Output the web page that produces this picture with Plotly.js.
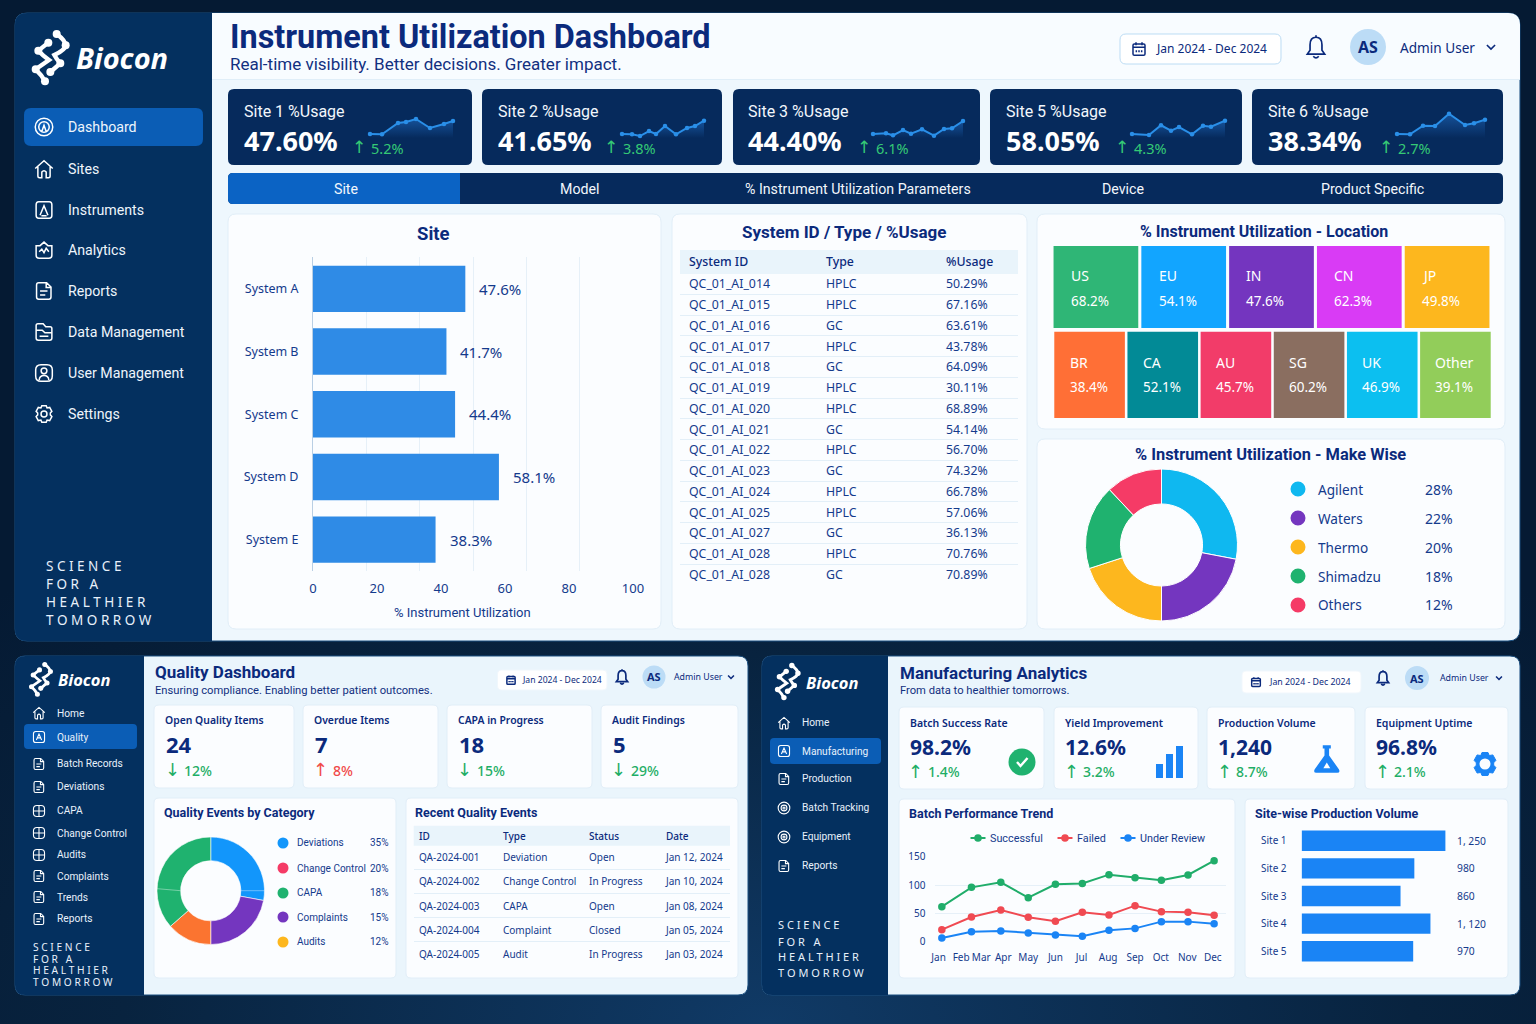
<!DOCTYPE html>
<html><head><meta charset="utf-8"><title>Instrument Utilization Dashboard</title>
<script src="https://cdn.plot.ly/plotly-3.0.1.min.js"></script>
<style>html,body{margin:0;padding:0;width:1536px;height:1024px;overflow:hidden;
background:radial-gradient(ellipse 70% 60% at 50% 100%,#103a66 0%,#08233f 60%,#051a33 100%),#051a33}
#chart{width:1536px;height:1024px}</style></head><body><div id="chart"></div><script>
// ---------- DATA ----------
const kpiNames=["Site 1 %Usage","Site 2 %Usage","Site 3 %Usage","Site 5 %Usage","Site 6 %Usage"];
const kpiValues=["47.60%","41.65%","44.40%","58.05%","38.34%"];
const kpiDeltas=["5.2%","3.8%","6.1%","4.3%","2.7%"];
const spark1X=[0,12,28,36,46,60,74,83], spark1Y=[4,3.7,15,16,19,10,14,17];
const spark2X=[0,10,18,27,34,43,54,65,73,82], spark2Y=[4,3.7,2,7,4,12,3.7,10,12,17.3];
const spark3X=[0,13,20,30,38,49,61,71,79,90], spark3Y=[4,4.7,2.7,8,4.3,8.7,2.3,9,9.7,17];
const spark5X=[0,17,29,39,47,60,71,79,93], spark5Y=[4,3,12.7,7.3,11,3.7,12.3,11.3,17.3];
const spark6X=[0,13,26,38,52,68,77,88], spark6Y=[4,3.7,12.3,12,24.3,13,14.7,18.3];
const tabNames=["Site","Model","% Instrument Utilization Parameters","Device","Product Specific"];
const systems=["System A","System B","System C","System D","System E"];
const systemUsage=[47.6,41.7,44.4,58.1,38.3];
const tableIds=["QC_01_AI_014","QC_01_AI_015","QC_01_AI_016","QC_01_AI_017","QC_01_AI_018","QC_01_AI_019","QC_01_AI_020","QC_01_AI_021","QC_01_AI_022","QC_01_AI_023","QC_01_AI_024","QC_01_AI_025","QC_01_AI_027","QC_01_AI_028","QC_01_AI_028"];
const tableTypes=["HPLC","HPLC","GC","HPLC","GC","HPLC","HPLC","GC","HPLC","GC","HPLC","HPLC","GC","HPLC","GC"];
const tableUsage=["50.29%","67.16%","63.61%","43.78%","64.09%","30.11%","68.89%","54.14%","56.70%","74.32%","66.78%","57.06%","36.13%","70.76%","70.89%"];
const locRow1=["US","EU","IN","CN","JP"], locRow1Val=[68.2,54.1,47.6,62.3,49.8];
const locRow2=["BR","CA","AU","SG","UK","Other"], locRow2Val=[38.4,52.1,45.7,60.2,46.9,39.1];
const locRow1Col=["#2fb676","#12a5ff","#7435bf","#d93bf5","#fdb71e"];
const locRow2Col=["#ff6f36","#028a96","#f23c69","#8a6e60","#0cbff0","#92cd5a"];
const makes=["Agilent","Waters","Thermo","Shimadzu","Others"], makeVal=[28,22,20,18,12];
const makeCol=["#0fb8f0","#7436bf","#fdb71e","#1fb26f","#f53b66"];
const qaKpiNames=["Open Quality Items","Overdue Items","CAPA in Progress","Audit Findings"];
const qaKpiVals=["24","7","18","5"], qaKpiDelta=["12%","8%","15%","29%"], qaKpiUp=[false,true,false,false];
const qaNav=["Home","Quality","Batch Records","Deviations","CAPA","Change Control","Audits","Complaints","Trends","Reports"];
const qaCats=["Deviations","Change Control","CAPA","Complaints","Audits"], qaCatVal=[35,20,18,15,12];
const qaCatCol=["#1296fb","#f53b66","#1fb26f","#7436bf","#fdb71e"];
const qaSliceNames=["Deviations","Complaints","Change Control","CAPA"], qaSliceVal=[27.9,22.1,13.5,36.5];
const qaSliceCol=["#1296fb","#7436bf","#fb7430","#1fb26f"];
const qaIds=["QA-2024-001","QA-2024-002","QA-2024-003","QA-2024-004","QA-2024-005"];
const qaTypes=["Deviation","Change Control","CAPA","Complaint","Audit"];
const qaStatus=["Open","In Progress","Open","Closed","In Progress"];
const qaDates=["Jan 12, 2024","Jan 10, 2024","Jan 08, 2024","Jan 05, 2024","Jan 03, 2024"];
const mfNav=["Home","Manufacturing","Production","Batch Tracking","Equipment","Reports"];
const mfKpiNames=["Batch Success Rate","Yield Improvement","Production Volume","Equipment Uptime"];
const mfKpiVals=["98.2%","12.6%","1,240","96.8%"], mfKpiDelta=["1.4%","3.2%","8.7%","2.1%"];
const trendPos=[0,1.09,2.17,3.18,4.18,5.17,6.15,7.11,8.08,9.06,10.02];
const trendSuccess=[61.6,96,105,77.7,101.4,103,118.6,113,108.5,118,143.5];
const trendFailed=[20.7,43.3,55.7,42.7,35.6,51.6,46.8,63.4,52.8,51.6,46.2];
const trendReview=[6,17,18.4,14.8,11.3,8.9,19.6,23,35,35,31.4];
const monthPos=[-0.12,0.71,1.45,2.26,3.18,4.18,5.14,6.12,7.11,8.06,9.03,9.97];
const months=["Jan","Feb","Mar","Apr","May","Jun","Jul","Aug","Sep","Oct","Nov","Dec"];
const prodSites=["Site 1","Site 2","Site 3","Site 4","Site 5"], prodVol=[1250,980,860,1120,970];
const prodLabels=["1, 250","980","860","1, 120","970"];

// ---------- HELPERS ----------
const BODY="Noto Sans", HEAD="Roboto";
const NAVY="#0b2a7c", INK="#143a8c", GREEN="#1fae66", LGREEN="#35c975", RED="#f04a4a";
const X=p=>+(p/1536).toFixed(5), Y=p=>+(1-p/1024).toFixed(5);
const shapes=[],annotations=[],data=[];
const layout={width:1536,height:1024,margin:{l:0,r:0,t:0,b:0},paper_bgcolor:"rgba(0,0,0,0)",plot_bgcolor:"rgba(0,0,0,0)",
 shapes,annotations,showlegend:false,hovermode:"closest",font:{family:BODY,color:INK}};
function T(text,x,y,size,color,o={}){annotations.push({text,x:X(x),y:Y(y),xref:"paper",yref:"paper",showarrow:false,
 xanchor:o.anchor||"left",yanchor:"middle",borderpad:0,borderwidth:0,
 font:{family:o.family||BODY,size,color:color||INK,weight:o.weight||400,style:o.style||"normal"}});}
const arrow=(up,x,y,size,color)=>T(up?"↑":"↓",x,y,size,color,{family:"DejaVu Sans",anchor:"center"});
const rrp=(x,y,w,h,r)=>`M${x+r} ${y} L${x+w-r} ${y} Q${x+w} ${y} ${x+w} ${y+r} L${x+w} ${y+h-r} Q${x+w} ${y+h} ${x+w-r} ${y+h} L${x+r} ${y+h} Q${x} ${y+h} ${x} ${y+h-r} L${x} ${y+r} Q${x} ${y} ${x+r} ${y} Z`;
const cp=(cx,cy,r)=>{const k=r*.5523;return `M${cx-r} ${cy} C${cx-r} ${cy-k} ${cx-k} ${cy-r} ${cx} ${cy-r} C${cx+k} ${cy-r} ${cx+r} ${cy-k} ${cx+r} ${cy} C${cx+r} ${cy+k} ${cx+k} ${cy+r} ${cx} ${cy+r} C${cx-k} ${cy+r} ${cx-r} ${cy+k} ${cx-r} ${cy} Z`;};
function P(path,ox,oy,s,o={}){let i=0;const d=path.replace(/-?\d+(\.\d+)?/g,m=>{const v=parseFloat(m);const r=(i%2==0)?X(ox+v*s):Y(oy+v*s);i++;return r;});
 shapes.push({type:"path",path:d,xref:"paper",yref:"paper",layer:o.layer||"below",fillcolor:o.fill||"rgba(0,0,0,0)",line:{color:o.line||"rgba(0,0,0,0)",width:o.width===undefined?(o.line?1:0):o.width}});}
function box(x0,y0,x1,y1,r,fill,line,lw){P(rrp(x0,y0,x1-x0,y1-y0,r),0,0,1,{fill,line,width:lw===undefined?(line?1:0):lw});}
function leftBox(x0,y0,x1,y1,r,fill){P(`M${x0+r} ${y0} L${x1} ${y0} L${x1} ${y1} L${x0+r} ${y1} Q${x0} ${y1} ${x0} ${y1-r} L${x0} ${y0+r} Q${x0} ${y0} ${x0+r} ${y0} Z`,0,0,1,{fill});}
function dot(cx,cy,r,fill,line){shapes.push({type:"circle",xref:"paper",yref:"paper",layer:"below",x0:X(cx-r),x1:X(cx+r),y0:Y(cy+r),y1:Y(cy-r),fillcolor:fill,line:{color:line||"rgba(0,0,0,0)",width:line?1:0}});}
function rule(x0,x1,y,c){shapes.push({type:"line",xref:"paper",yref:"paper",layer:"below",x0:X(x0),x1:X(x1),y0:Y(y),y1:Y(y),line:{color:c,width:1}});}
const ICONS={
 home:"M2 11.5 L12 2.5 L22 11.5 M5 9.5 L5 20 Q5 22 7 22 L9.5 22 L9.5 15.5 Q12 12.5 14.5 15.5 L14.5 22 L17 22 Q19 22 19 20 L19 9.5",
 dash:cp(12,12,10)+" "+cp(12,12,6)+" M9.5 17 L12 10 L14.5 17",
 frame:rrp(2.5,2.5,19,19,4)+" M7.5 17 L12 7 L16.5 17 M9.5 13.5 L14.5 13.5",
 inst:"M6 2.5 L18 2.5 Q21 2.5 21 6 L21 18 Q21 21.5 18 21.5 L6 21.5 Q3 21.5 3 18 L3 6 Q3 2.5 6 2.5 M7.5 18 L12 7 L16.5 18 M9 18.5 L15 18.5",
 ana:"M3 7 L7.5 7 L12 3 L16.5 7 L21 7 L21 18 Q21 21.5 17.5 21.5 L6.5 21.5 Q3 21.5 3 18 Z M6.5 14 L9.5 11 L12 15 L14.5 10 L17.5 14",
 doc:"M6 2.5 L15 2.5 L20 7.5 L20 19 Q20 21.5 17.5 21.5 L6 21.5 Q3.5 21.5 3.5 19 L3.5 5 Q3.5 2.5 6 2.5 M14.5 2.5 L14.5 8 L20 8 M7.5 12 L16 12 M7.5 16.5 L13.5 16.5",
 data:"M5 2.5 L11 2.5 L14 6 L19 6 Q21 6 21 8 L21 19 Q21 21.5 18.5 21.5 L5.5 21.5 Q3 21.5 3 19 L3 4.5 Q3 2.5 5 2.5 M3 10 L10 10 L13 13 L21 13 M7 17 L17 17",
 user:rrp(2.5,2.5,19,19,6)+" "+cp(12,9.5,3.3)+" M6.5 20 Q7 15 12 15 Q17 15 17.5 20",
 gear:"M9.5 2.5 L14.5 2.5 L15.5 5 L18.5 4.5 L21 9 L19.2 11 L19.2 13 L21 15 L18.5 19.5 L15.5 19 L14.5 21.5 L9.5 21.5 L8.5 19 L5.5 19.5 L3 15 L4.8 13 L4.8 11 L3 9 L5.5 4.5 L8.5 5 Z "+cp(12,12,3.4),
 cap:rrp(2.5,2.5,19,19,6)+" M2.5 12 L21.5 12 M12 2.5 L12 21.5",
 target:cp(12,12,10)+" "+cp(12,12,5)+" "+cp(12,12,1.8),
 bell:"M12 3 C8 3 6.5 6 6.5 10 L6.5 15 L4 18.5 L20 18.5 L17.5 15 L17.5 10 C17.5 6 16 3 12 3 M9.5 20.5 Q12 23.5 14.5 20.5 M12 1.2 L12 3",
 chev:"M5 8.5 L12 15.5 L19 8.5",
 cal:rrp(3,4.5,18,17,2)+" M7.5 2 L7.5 6.5 M16.5 2 L16.5 6.5 M3 9.5 L21 9.5 M8 14 L8 17 M12 14 L12 17 M16 14 L16 17"};
function icon(name,cx,cy,size,color,w){const s=size/24;P(ICONS[name],cx-12*s,cy-12*s,s,{line:color,width:w||1.5});}
function logo(x0,y0,s,textX,textY,textSize){
 const w=13*s,lc="#ffffff";
 P("M125 42 Q150 60 152 76 Q150 90 118 105 Q125 118 136 130 L106 156",x0,y0,s,{line:lc,width:w});
 P("M100 68 L70 92 Q85 108 102 120 L62 148 Q80 165 90 184",x0,y0,s,{line:lc,width:w});
 [[125,42],[152,76],[100,68],[70,92],[136,130],[106,156],[62,148],[90,184]].forEach(p=>dot(x0+p[0]*s,y0+p[1]*s,s*12,lc));
 T("Biocon",textX,textY,textSize,"#ffffff",{weight:700,style:"italic"});
}
let axN=0;
function axes(x0,x1,y0,y1,xo={},yo={}){axN++;const id=axN==1?"":axN;
 const base={showgrid:false,zeroline:false,showticklabels:false,ticks:"",fixedrange:true,automargin:false};
 layout["xaxis"+id]=Object.assign({},base,{domain:[X(x0),X(x1)],anchor:"y"+id},xo);
 layout["yaxis"+id]=Object.assign({},base,{domain:[Y(y1),Y(y0)],anchor:"x"+id},yo);
 return {x:"x"+id,y:"y"+id};}
function header(title,titleX,titleY,tSize,sub,subY,subSize,opts){
 T(title,titleX,titleY,tSize,NAVY,{weight:700,family:HEAD});T(sub,titleX,subY,subSize,"#12307f",{family:HEAD});
 box(opts.cx0,opts.cy0,opts.cx1,opts.cy1,opts.r,"#ffffff",opts.border);
 icon("cal",opts.calX,(opts.cy0+opts.cy1)/2,opts.calS,NAVY,1.5);
 T("Jan 2024 - Dec 2024",opts.dateX,(opts.cy0+opts.cy1)/2,opts.dateS,NAVY);
 icon("bell",opts.bellX,opts.userY,opts.bellS,NAVY,1.7);
 dot(opts.avX,opts.userY,opts.avR,"#bcdcf6");
 T("AS",opts.avX,opts.userY,opts.avS,NAVY,{anchor:"center",weight:700});
 T("Admin User",opts.userX,opts.userY,opts.userS,NAVY);
 icon("chev",opts.chevX,opts.userY,opts.chevS,NAVY,1.6);
}
function tagline(x,ys,size){["S C I E N C E","F O R   A","H E A L T H I E R","T O M O R R O W"].forEach((t,i)=>T(t.replace(/   /g,"\u00a0\u00a0\u00a0"),x,ys[i],size,"#e8f1fb"));}
function textTable(x0,x1,y0,y1,yRange,cols,colX,rows,hdrPos,headers,size,size2,ruleVals,off){
 const a=axes(x0,x1,y0,y1,{range:[x0,x1]},{range:yRange,showgrid:true,gridcolor:"#e3eff8",gridwidth:1,tickvals:ruleVals});
 cols.forEach((c,i)=>{
  data.push({type:"scatter",mode:"text",xaxis:a.x,yaxis:a.y,showlegend:false,cliponaxis:false,hoverinfo:"skip",
   x:rows.map(()=>colX[i]),y:rows.map(r=>r+off),text:c,textposition:"middle right",textfont:{family:BODY,size,color:INK}});
  data.push({type:"scatter",mode:"text",xaxis:a.x,yaxis:a.y,showlegend:false,cliponaxis:false,hoverinfo:"skip",
   x:[colX[i]],y:[hdrPos+off],text:[headers[i]],textposition:"middle right",textfont:{family:BODY,size:size2,color:NAVY,weight:500}});
 });
}

// ---------- MAIN DASHBOARD FRAME ----------
box(15,13,1520,641,12,"#eef7fd","#1b4f80");
P(`M212 13 L1508 13 Q1520 13 1520 25 L1520 79 L212 79 Z`,0,0,1,{fill:"#f8fcff"});
rule(212,1520,79.5,"#e0eef8");
leftBox(15,13,212,641,12,"#04305f");
logo(15,20,1/3,76,58,29);
header("Instrument Utilization Dashboard",230,37,32.4,"Real-time visibility. Better decisions. Greater impact.",64,17,{
 cx0:1120,cy0:34,cx1:1281,cy1:64,r:6,border:"#bcdcf4",calX:1139,calS:16,dateX:1156,dateS:12,bellX:1316,userY:47,bellS:26,avX:1368,avR:18,avS:16,userX:1400,userS:13.6,chevX:1491,chevS:14});
box(24,108,203,146,7,"#0b5db5");
const mainNav=[["Dashboard",127,"dash"],["Sites",169,"home"],["Instruments",210,"inst"],["Analytics",250,"ana"],["Reports",291,"doc"],["Data Management",332,"data"],["User Management",373,"user"],["Settings",414,"gear"]];
mainNav.forEach(n=>{T(n[0],68,n[1],14.2,"#eef5fc",{family:HEAD});icon(n[2],44,n[1],21,"#ffffff",1.5);});
tagline(46,[566,584,602,620],13.5);

// KPI cards with sparklines
const cardX=[[228,472],[482,722],[733,980],[990,1242],[1252,1503]];
const textX=[244,498,748,1006,1268], deltaX=[359,611,864,1122,1386];
const sparkX0=[370,622,873,1132,1397], sparkLen=[83,82,90,93,88];
const sparkXs=[spark1X,spark2X,spark3X,spark5X,spark6X], sparkYs=[spark1Y,spark2Y,spark3Y,spark5Y,spark6Y];
cardX.forEach((c,i)=>{
 box(c[0],89,c[1],165,6,"#062a5c");
 T(kpiNames[i],textX[i],111,16,"#f2f7fc",{family:HEAD});
 T(kpiValues[i],textX[i],140,27,"#ffffff",{weight:700});
 arrow(true,deltaX[i],147.5,17,LGREEN);
 T(kpiDeltas[i],deltaX[i]+12,148,14.5,LGREEN);
 const a=axes(sparkX0[i],sparkX0[i]+sparkLen[i],112,138,{range:[0,sparkLen[i]]},{range:[0,26]});
 data.push({type:"scatter",mode:"lines+markers",xaxis:a.x,yaxis:a.y,x:sparkXs[i],y:sparkYs[i],showlegend:false,cliponaxis:false,hoverinfo:"y",
  line:{color:"#2a8fe8",width:2},marker:{size:4.5,color:"#2a8fe8"},fill:"tozeroy",
  fillgradient:{type:"vertical",colorscale:[[0,"rgba(40,130,230,0)"],[1,"rgba(40,130,230,0.45)"]]}});
});
// Tabs
box(228,173,1503,204,5,"#062a5c");
P(`M233 173 L460 173 L460 204 L233 204 Q228 204 228 199 L228 178 Q228 173 233 173 Z`,0,0,1,{fill:"#0b63c4"});
[346,580,858,1123,1372].forEach((x,i)=>T(tabNames[i],x,189,14.2,"#f2f7fc",{anchor:"center",family:HEAD}));

// Panels
[[228,214,661,629],[672,214,1027,629],[1037,214,1505,429],[1037,439,1505,629]].forEach(b=>box(b[0],b[1],b[2],b[3],8,"#fbfdff","#e1eef8"));
// Site bars
T("Site",434,234,18.5,NAVY,{anchor:"center",weight:700,family:HEAD});
let a=axes(313,633,257.5,571,{range:[0,100],showticklabels:true,tickvals:[0,20,40,60,80,100],tickfont:{family:BODY,size:13,color:INK},ticklabelstandoff:8,
  minor:{dtick:100/6,tick0:0,showgrid:true,gridcolor:"#e6f0f8",gridwidth:1,ticks:""}},
 {type:"category",range:[4.5,-0.5],showticklabels:true,showline:true,linecolor:"#b9cfe4",linewidth:1,tickfont:{family:BODY,size:12.5,color:INK},ticklabelstandoff:11});
data.push({type:"bar",orientation:"h",xaxis:a.x,yaxis:a.y,y:systems,x:systemUsage,showlegend:false,marker:{color:"#2f8be6"},width:0.74,hoverinfo:"x+y"});
systems.forEach((s,i)=>annotations.push({text:systemUsage[i].toFixed(1)+"%",x:systemUsage[i],y:s,xref:a.x,yref:a.y,xanchor:"left",yanchor:"middle",xshift:12,showarrow:false,font:{family:BODY,size:15,color:INK}}));
T("% Instrument Utilization",463,613,13,INK,{anchor:"center",family:HEAD});
// System table
T("System ID / Type / %Usage",844,232,17,NAVY,{anchor:"center",weight:700,family:HEAD});
box(680,250,1018,274,0,"#e9f4fb");
textTable(680,1018,250,585.25,[14.518,-1.639],[tableIds,tableTypes,tableUsage],[689,826,946],tableIds.map((_,i)=>i),-1.06,["System ID","Type","%Usage"],12.3,12.3,tableIds.map((_,i)=>i+0.5),0.06);
// Location tiles
T("% Instrument Utilization - Location",1264,231,16,NAVY,{anchor:"center",weight:700,family:HEAD});
function tiles(x0,x1,y0,y1,names,vals,cols,nameY,valY,shift){
 const b=axes(x0,x1,y0,y1,{type:"category",categoryorder:"array",categoryarray:names},{range:[0,1]});
 data.push({type:"bar",xaxis:b.x,yaxis:b.y,x:names,y:names.map(()=>1),width:0.965,showlegend:false,text:vals.map(v=>v+"%"),textposition:"none",hovertemplate:"%{x}: %{text}<extra></extra>",marker:{color:cols}});
 names.forEach((n,i)=>{[[n,nameY,14],[vals[i].toFixed(1)+"%",valY,13.5]].forEach(t=>annotations.push({text:t[0],x:n,y:Y(t[1]),xref:b.x,yref:"paper",xanchor:"left",yanchor:"middle",xshift:shift,showarrow:false,font:{family:BODY,size:t[2],color:"#ffffff"}}));});
}
tiles(1052,1491,246,328,locRow1,locRow1Val,locRow1Col,276,301,-27);
tiles(1053,1492,331.5,418,locRow2,locRow2Val,locRow2Col,362,387,-22);
// Make donut
T("% Instrument Utilization - Make Wise",1271,454,16.4,NAVY,{anchor:"center",weight:700,family:HEAD});
data.push({type:"pie",labels:makes,values:makeVal,sort:false,direction:"clockwise",rotation:0,hole:0.54,textinfo:"none",showlegend:false,
 marker:{colors:makeCol,line:{color:"#ffffff",width:1}},domain:{x:[X(1085.5),X(1237.5)],y:[Y(621),Y(469)]}});
makes.forEach((m,i)=>{const y=[489,518,547,576,605][i];dot(1298,y,7.5,makeCol[i]);T(m,1318,y,13.6,INK);T(makeVal[i]+"%",1425,y,14,INK);});

// ---------- QUALITY DASHBOARD ----------
box(15,656,748,995,10,"#eaf5fc","#1b4f80");
leftBox(15,656,144,995,10,"#04305f");
logo(18.5,655.6,0.21,58,680,16.5);
box(24,724,137,749,4,"#0b5db5");
const qaY=[713,737,764,787,811,833,855,876,897,919];
const qaIc=["home","frame","doc","doc","cap","cap","cap","doc","doc","doc"];
qaNav.forEach((n,i)=>{T(n,57,qaY[i],10.2,"#e8f1fb",{family:HEAD});icon(qaIc[i],39,qaY[i],14,"#ffffff",1.1);});
tagline(33,[947,958.7,970,981.5],10.2);
header("Quality Dashboard",155,672,17,"Ensuring compliance. Enabling better patient outcomes.",690,11.2,{
 cx0:497.5,cy0:670,cx1:607,cy1:690,r:4,border:"#f0f7fc",calX:511,calS:11,dateX:522,dateS:8.6,bellX:622,userY:677,bellS:17,avX:654,avR:11.5,avS:11,userX:674,userS:8.8,chevX:731,chevS:10});
[[154,294],[303,438],[447,592],[601,738]].forEach((c,i)=>{
 box(c[0],705,c[1],788,5,"#fbfdff","#e1eef8");
 const x=c[0]+11;
 T(qaKpiNames[i],x,720,10.4,NAVY,{weight:600});
 T(qaKpiVals[i],x+1,744.5,22,NAVY,{weight:700});
 const col=qaKpiUp[i]?RED:GREEN;
 arrow(qaKpiUp[i],x+7,769.5,18,col);
 T(qaKpiDelta[i],x+19,770.5,14,col,{weight:500});
});
box(154,798,396,978,5,"#fbfdff","#e1eef8");box(406,798,738,978,5,"#fbfdff","#e1eef8");
T("Quality Events by Category",164,812,12.5,NAVY,{weight:700,family:HEAD});
T("Recent Quality Events",415,812,12.5,NAVY,{weight:700,family:HEAD});
data.push({type:"pie",labels:qaSliceNames,values:qaSliceVal,sort:false,direction:"clockwise",rotation:0,hole:0.56,textinfo:"none",showlegend:false,
 marker:{colors:qaSliceCol,line:{color:"#ffffff",width:0.6}},domain:{x:[X(157),X(264.5)],y:[Y(944.5),Y(837)]}});
[[240.7,890.7,264.4,890.7],[157.3,888.7,180.5,890.7]].forEach(l=>shapes.push({type:"line",xref:"paper",yref:"paper",layer:"above",x0:X(l[0]),y0:Y(l[1]),x1:X(l[2]),y1:Y(l[3]),line:{color:"rgba(255,255,255,0.55)",width:0.7}}));
qaCats.forEach((c,i)=>{const y=[843,868,893,917,942][i];dot(283,y,5.5,qaCatCol[i]);T(c,297,y,10,INK,{family:HEAD});T(qaCatVal[i]+"%",389,y,10,INK,{anchor:"right",family:HEAD});});
box(413.7,825.7,730,845.7,0,"#e9f4fb");
textTable(413.7,730,825.7,966.5,[4.525,-1.293],[qaIds,qaTypes,qaStatus,qaDates],[419,503,589,666],qaIds.map((_,i)=>i),-0.88,["ID","Type","Status","Date"],10,10,[0.5,1.5,2.5,3.5,4.5],0.07);

// ---------- MANUFACTURING ANALYTICS ----------
box(762,656,1520,995,10,"#eaf5fc","#1b4f80");
leftBox(762,656,888,995,10,"#04305f");
logo(763.6,656,0.226,806,682,16.5);
box(770,738,881,764,4,"#0b5db5");
const mfY=[723,751,779,808,837,866], mfIc=["home","frame","doc","target","target","doc"];
mfNav.forEach((n,i)=>{T(n,802,mfY[i],10.2,"#e8f1fb",{family:HEAD});icon(mfIc[i],784,mfY[i],14,"#ffffff",1.1);});
tagline(778,[925,941,957,972],11);
header("Manufacturing Analytics",900,673,17,"From data to healthier tomorrows.",691,11.2,{
 cx0:1242,cy0:671,cx1:1361,cy1:693,r:4,border:"#f0f7fc",calX:1256,calS:11.5,dateX:1269,dateS:8.8,bellX:1383,userY:678,bellS:17,avX:1417,avR:12,avS:11,userX:1440,userS:8.8,chevX:1499,chevS:10});
[[899,1044],[1054,1198],[1207,1355],[1365,1508]].forEach((c,i)=>{
 box(c[0],707,c[1],789,5,"#fbfdff","#e1eef8");
 const x=c[0]+11;
 T(mfKpiNames[i],x,723,10.5,NAVY,{weight:600});
 T(mfKpiVals[i],x,747,21,NAVY,{weight:700});
 arrow(true,x+6,771,18,GREEN);
 T(mfKpiDelta[i],x+18,771.5,14,GREEN,{weight:500});
});
// KPI card pictograms
dot(1022,762,13.5,"#1fb26f");
P("M-5 0 L-1.5 4 L5.5 -4",1022,762,1,{line:"#ffffff",width:2.4});
[[1156,764,7],[1166,754,7],[1176,746,7]].forEach(b=>P(rrp(0,0,b[2],778-b[1],0),b[0],b[1],1,{fill:"#1a84f5"}));
P("M8.5 1 L15.5 1 L15.5 4 L14 4 L14 10 L22.5 22 Q24 25 21 25 L3 25 Q0 25 1.5 22 L10 10 L10 4 L8.5 4 Z",1313,744,1.15,{fill:"#1a84f5"});
P("M12 16 L15 21 L9 21 Z",1313,744,1.15,{fill:"#ffffff"});
icon("gear",1485,764,29,"#1a84f5",1);shapes[shapes.length-1].fillcolor="#1a84f5";dot(1485,764,5.5,"#fbfdff");
box(899,799,1235,978,5,"#fbfdff","#e1eef8");box(1245,799,1508,978,5,"#fbfdff","#e1eef8");
T("Batch Performance Trend",909,813,12.5,NAVY,{weight:700,family:HEAD});
T("Site-wise Production Volume",1255,813,12.5,NAVY,{weight:700,family:HEAD});
// Trend lines
const tickF={family:BODY,size:10,color:INK};
a=axes(934.5,1225.8,857,941.3,{range:[-0.27,10.45],showticklabels:true,tickmode:"array",tickvals:monthPos,ticktext:months,tickangle:0,tickfont:tickF,ticklabelstandoff:9},
 {range:[0,150],showticklabels:true,tickvals:[0,50,100,150],tickfont:tickF,showgrid:true,gridcolor:"#e6f0f8",ticklabelstandoff:8});
const trendSeries=[["Successful",trendSuccess,"#20ad6a",978,990],["Failed",trendFailed,"#f04a52",1065,1077],["Under Review",trendReview,"#1a84f5",1128,1140]];
trendSeries.forEach(s=>{
 data.push({type:"scatter",mode:"lines+markers",name:s[0],xaxis:a.x,yaxis:a.y,x:trendPos,y:s[1],cliponaxis:false,showlegend:false,line:{color:s[2],width:2},marker:{size:7.5,color:s[2]}});
 shapes.push({type:"line",xref:"paper",yref:"paper",layer:"below",x0:X(s[3]-7.5),x1:X(s[3]+7.5),y0:Y(838),y1:Y(838),line:{color:s[2],width:2}});
 dot(s[3],838,3.8,s[2]);
 T(s[0],s[4],838,10.8,INK,{family:HEAD});
});
// Production bars
a=axes(1301.6,1450,827,965,{range:[0,1290]},{type:"category",range:[4.5,-0.5],showticklabels:true,tickfont:{family:BODY,size:10,color:INK},ticklabelstandoff:14});
data.push({type:"bar",orientation:"h",xaxis:a.x,yaxis:a.y,y:prodSites,x:prodVol,showlegend:false,marker:{color:"#1a84f5"},width:0.74,hoverinfo:"x+y"});
prodSites.forEach((s,i)=>annotations.push({text:prodLabels[i],x:X(1455),y:s,xref:"paper",yref:a.y,xanchor:"left",yanchor:"middle",showarrow:false,font:{family:BODY,size:10.3,color:INK}}));

Plotly.newPlot("chart",data,layout,{displayModeBar:false,responsive:false});
</script></body></html>
